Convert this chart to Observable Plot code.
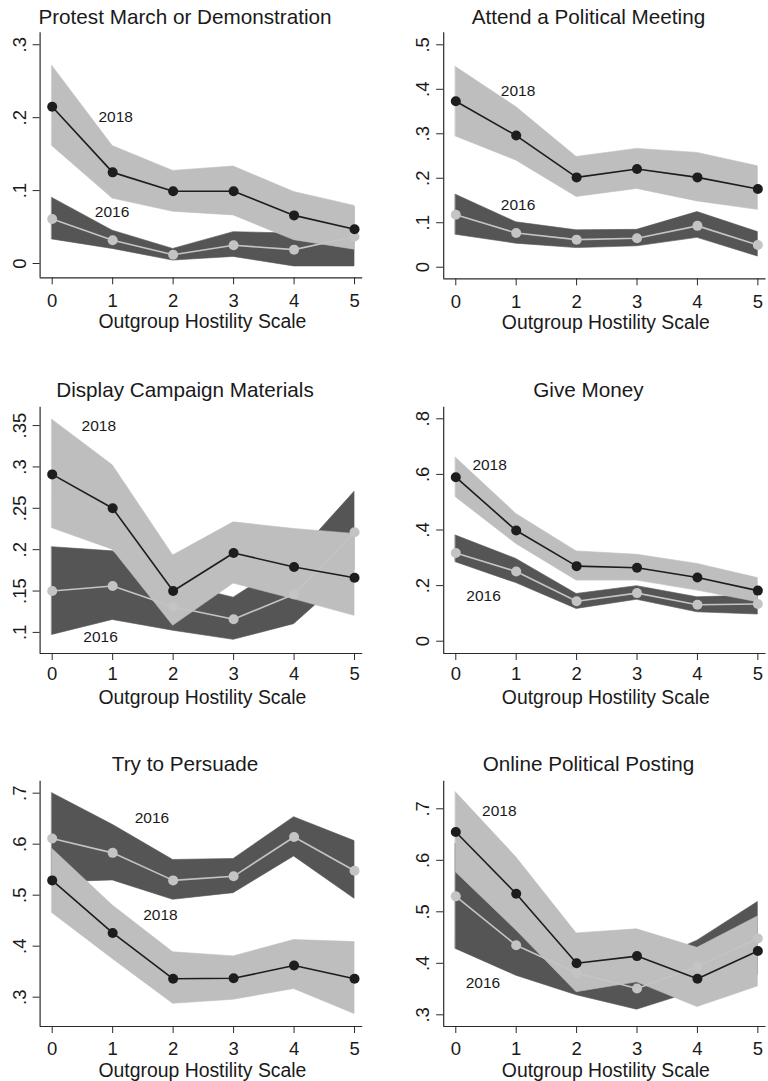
<!DOCTYPE html>
<html>
<head>
<meta charset="utf-8">
<script src="https://cdn.jsdelivr.net/npm/d3@7"></script>
<script src="https://cdn.jsdelivr.net/npm/@observablehq/plot@0.6"></script>
<style>
  html, body { margin: 0; padding: 0; background: #fff; }
  #chart { position: relative; width: 768px; height: 1081px; overflow: hidden; background: #fff; }
  #chart svg { position: absolute; }
</style>
</head>
<body>
<div id="chart"></div>
<script>
// Outgroup hostility scale (x axis)
const hostility = [0, 1, 2, 3, 4, 5];
const xTitle = "Outgroup Hostility Scale";

const panelTitles = [
  "Protest March or Demonstration",
  "Attend a Political Meeting",
  "Display Campaign Materials",
  "Give Money",
  "Try to Persuade",
  "Online Political Posting"
];

const yTicks = [
  [0, 0.1, 0.2, 0.3],
  [0, 0.1, 0.2, 0.3, 0.4, 0.5],
  [0.1, 0.15, 0.2, 0.25, 0.3, 0.35],
  [0, 0.2, 0.4, 0.6, 0.8],
  [0.3, 0.4, 0.5, 0.6, 0.7],
  [0.3, 0.4, 0.5, 0.6, 0.7]
];

// Predicted probabilities with confidence bounds, one row per panel
const est2018 = [
  [0.215, 0.125, 0.099, 0.099, 0.066, 0.047],
  [0.373, 0.296, 0.202, 0.221, 0.202, 0.176],
  [0.291, 0.250, 0.150, 0.196, 0.179, 0.166],
  [0.590, 0.398, 0.270, 0.264, 0.229, 0.182],
  [0.529, 0.426, 0.336, 0.337, 0.362, 0.336],
  [0.655, 0.535, 0.400, 0.414, 0.370, 0.424]
];
const lo2018 = [
  [0.161, 0.089, 0.071, 0.066, 0.032, 0.019],
  [0.294, 0.240, 0.158, 0.176, 0.148, 0.129],
  [0.226, 0.200, 0.108, 0.159, 0.140, 0.120],
  [0.518, 0.350, 0.218, 0.218, 0.182, 0.140],
  [0.465, 0.375, 0.287, 0.295, 0.316, 0.267],
  [0.577, 0.464, 0.344, 0.363, 0.315, 0.355]
];
const hi2018 = [
  [0.271, 0.161, 0.127, 0.133, 0.098, 0.079],
  [0.450, 0.360, 0.248, 0.266, 0.257, 0.227],
  [0.357, 0.302, 0.193, 0.233, 0.225, 0.219],
  [0.660, 0.458, 0.323, 0.311, 0.278, 0.227],
  [0.591, 0.480, 0.388, 0.380, 0.412, 0.408],
  [0.732, 0.606, 0.458, 0.466, 0.430, 0.491]
];
const est2016 = [
  [0.061, 0.032, 0.012, 0.025, 0.019, 0.037],
  [0.118, 0.077, 0.062, 0.065, 0.093, 0.050],
  [0.150, 0.156, 0.131, 0.116, 0.146, 0.221],
  [0.317, 0.251, 0.144, 0.173, 0.131, 0.134],
  [0.611, 0.583, 0.529, 0.537, 0.614, 0.548],
  [0.530, 0.435, 0.381, 0.351, 0.394, 0.448]
];
const lo2016 = [
  [0.033, 0.020, 0.004, 0.009, -0.004, -0.004],
  [0.073, 0.053, 0.043, 0.047, 0.066, 0.024],
  [0.097, 0.115, 0.102, 0.091, 0.110, 0.175],
  [0.284, 0.209, 0.116, 0.149, 0.104, 0.096],
  [0.525, 0.529, 0.491, 0.504, 0.576, 0.493],
  [0.428, 0.376, 0.338, 0.310, 0.347, 0.377]
];
const hi2016 = [
  [0.090, 0.045, 0.020, 0.043, 0.041, 0.078],
  [0.163, 0.101, 0.083, 0.084, 0.124, 0.079],
  [0.203, 0.198, 0.160, 0.142, 0.189, 0.270],
  [0.380, 0.296, 0.170, 0.198, 0.158, 0.164],
  [0.700, 0.638, 0.569, 0.571, 0.653, 0.606],
  [0.632, 0.493, 0.429, 0.392, 0.444, 0.519]
];

const years = ["2018", "2016"];

// Where each year label sits, in data units [x, y] for 2018 then 2016
const yearLabelSpots = [
  [[1.05, 0.201], [0.99, 0.070]],
  [[1.03, 0.397], [1.03, 0.139]],
  [[0.77, 0.349], [0.80, 0.0948]],
  [[0.56, 0.635], [0.46, 0.162]],
  [[1.79, 0.4616], [1.65, 0.652]],
  [[0.72, 0.695], [0.45, 0.362]]
];

// Panel frames (pixels) and y domains
const xDomain = [-0.2, 5.135];
const frames = [
  {left: 0,   top: 0,   height: 345, L: 39.6, R: 362.2, T: 32.3, B: 277.3, y: [-0.0196, 0.3164], titleDy: -9.3,  tickPad: 9, xTitleDy: 50},
  {left: 384, top: 0,   height: 345, L: 59.2, R: 381.5, T: 32.3, B: 278.3, y: [-0.026, 0.527],   titleDy: -9.3,  tickPad: 9, xTitleDy: 50},
  {left: 0,   top: 360, height: 365, L: 39.6, R: 362.2, T: 46.7, B: 293.0, y: [0.0745, 0.3722],  titleDy: -10.7, tickPad: 6, xTitleDy: 50},
  {left: 384, top: 360, height: 365, L: 59.2, R: 381.5, T: 46.7, B: 293.0, y: [-0.0442, 0.8417], titleDy: -10.7, tickPad: 6, xTitleDy: 50},
  {left: 0,   top: 730, height: 351, L: 39.6, R: 362.2, T: 50.7, B: 296,   y: [0.2425, 0.7235],  titleDy: -10.7, tickPad: 8, xTitleDy: 50},
  {left: 384, top: 730, height: 351, L: 59.2, R: 381.5, T: 50.7, B: 296,   y: [0.2773, 0.7536],  titleDy: -10.7, tickPad: 8, xTitleDy: 50}
];

const lightBand = "#bebebe";
const darkBand = "#555555";
const ink2018 = "#1d1d1d";
const ink2016 = "#c4c4c4";
const textInk = "#1a1a1a";
const font = "'Liberation Sans', Arial, Helvetica, sans-serif";

const fmtTick = d => d === 0 ? "0" : String(d).replace(/^0\./, ".");

const chart = document.getElementById("chart");

frames.forEach((f, i) => {
  const rows = hostility.map((x, j) => ({
    x,
    est18: est2018[i][j], lo18: lo2018[i][j], hi18: hi2018[i][j],
    est16: est2016[i][j], lo16: lo2016[i][j], hi16: hi2016[i][j]
  }));
  const labels = years.map((t, k) => ({text: t, x: yearLabelSpots[i][k][0], y: yearLabelSpots[i][k][1]}));

  const svg = Plot.plot({
    width: 384,
    height: f.height,
    marginLeft: f.L,
    marginRight: 384 - f.R,
    marginTop: f.T,
    marginBottom: f.height - f.B,
    x: {domain: xDomain},
    y: {domain: f.y},
    style: {fontFamily: font, fontSize: "18.5px", color: "#2a2a2a", background: "transparent", overflow: "visible"},
    marks: [
      // confidence bands: 2016 underneath, 2018 above
      Plot.areaY(rows, {x: "x", y1: "lo16", y2: "hi16", fill: darkBand, stroke: darkBand, strokeWidth: 0.6}),
      Plot.areaY(rows, {x: "x", y1: "lo18", y2: "hi18", fill: lightBand, stroke: lightBand, strokeWidth: 0.6}),
      // point estimates
      Plot.lineY(rows, {x: "x", y: "est16", stroke: ink2016, strokeWidth: 1.6}),
      Plot.dot(rows, {x: "x", y: "est16", r: 5, fill: ink2016, stroke: "none"}),
      Plot.lineY(rows, {x: "x", y: "est18", stroke: ink2018, strokeWidth: 1.6}),
      Plot.dot(rows, {x: "x", y: "est18", r: 5, fill: ink2018, stroke: "none"}),
      // year labels
      Plot.text(labels, {x: "x", y: "y", text: "text", fontSize: 15.5, fill: textInk, lineAnchor: "middle"}),
      // axis lines
      Plot.ruleX([xDomain[0]], {stroke: "#2a2a2a", strokeWidth: 1.2}),
      Plot.ruleY([f.y[0]], {stroke: "#2a2a2a", strokeWidth: 1.2}),
      Plot.axisX({ticks: hostility, tickFormat: d => String(d), tickSize: 7, tickPadding: f.tickPad, label: null, fill: textInk}),
      Plot.axisY({ticks: yTicks[i], tickFormat: fmtTick, tickSize: 7, tickPadding: 7.5, tickRotate: -90, label: null, fill: textInk}),
      // panel title and x-axis title
      Plot.text([panelTitles[i]], {frameAnchor: "top", dx: -16.4, dy: f.titleDy, lineAnchor: "bottom", fontSize: 20.7, fill: textInk}),
      Plot.text([xTitle], {frameAnchor: "bottom", dx: 1, dy: f.xTitleDy, lineAnchor: "bottom", fontSize: 19.4, fill: textInk})
    ]
  });
  svg.style.left = f.left + "px";
  svg.style.top = f.top + "px";
  chart.appendChild(svg);
});
</script>
</body>
</html>
